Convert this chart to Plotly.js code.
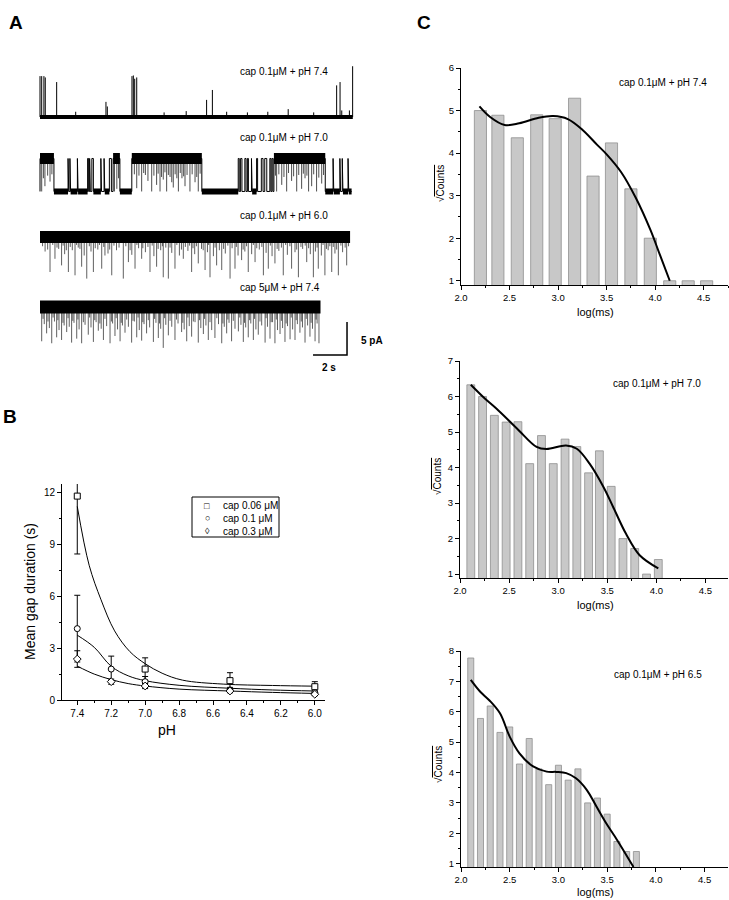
<!DOCTYPE html>
<html>
<head>
<meta charset="utf-8">
<script src="https://cdn.plot.ly/plotly-3.0.1.min.js"></script>
<style>body{margin:0;background:#fff}#fig{width:729px;height:900px}</style>
</head>
<body>
<div id="fig"></div>
<script>
// ---------- panel A : single channel records (time in s, current in pA) ----------
const rec1End = 18.4;
const rec1SpikeT = [0.0, 0.1, 0.23, 0.31, 0.98, 2.1, 3.88, 3.96, 5.41, 5.49, 5.57, 5.69, 7.3, 8.6, 9.8, 10.14, 10.98, 12.2, 13.4, 14.6, 16.1, 17.45, 17.65, 17.75, 18.2, 18.39];
const rec1SpikeA = [6.2, 6.2, 6.2, 6.0, 5.3, 0.8, 2.3, 1.6, 6.2, 6.3, 5.8, 6.0, 0.7, 0.9, 2.6, 4.1, 0.8, 0.7, 0.8, 1.2, 0.7, 4.8, 5.3, 1.0, 1.0, 7.7];

const rec2End = 18.33;
const rec2Amp = 5.0;
const rec2OpenStart = [0.0, 1.65, 1.76, 2.20, 2.80, 2.92, 3.05, 3.58, 3.77, 4.08, 4.30, 5.40, 11.66, 11.80, 12.05, 12.20, 12.44, 12.74, 13.02, 13.22, 13.52, 13.64, 13.76, 17.24, 17.64, 17.78, 18.12];
const rec2OpenEnd = [0.82, 1.69, 1.80, 2.24, 2.86, 2.96, 3.14, 3.62, 3.81, 4.20, 4.70, 9.52, 11.72, 11.88, 12.12, 12.26, 12.48, 12.80, 13.12, 13.34, 13.58, 13.70, 16.78, 17.28, 17.68, 17.82, 18.16];
const rec2FlickT = [0.1, 0.2, 0.29, 0.45, 0.59, 0.7, 4.38, 4.52, 4.62, 5.55, 5.69, 5.82, 5.98, 6.1, 6.2, 6.35, 6.57, 6.7, 6.86, 6.95, 7.06, 7.15, 7.25, 7.35, 7.45, 7.55, 7.65, 7.75, 7.84, 7.95, 8.05, 8.14, 8.25, 8.35, 8.45, 8.53, 8.65, 8.82, 8.95, 9.12, 9.22, 9.31, 9.42,
  13.85, 13.92, 14.05, 14.22, 14.35, 14.51, 14.62, 14.8, 14.92, 15.1, 15.22, 15.39, 15.49, 15.59, 15.7, 15.8, 15.98, 16.1, 16.27, 16.4, 16.57, 16.68];
const rec2FlickD = [5.0, 3.0, 4.2, 2.6, 3.5, 2.4, 5.0, 4.6, 3.0, 2.4, 4.5, 2.6, 5.0, 2.2, 2.5, 3.4, 5.0, 2.6, 4.0, 2.3, 5.0, 2.8, 3.2, 2.1, 5.0, 2.5, 2.8, 3.6, 4.4, 2.4, 3.0, 5.0, 2.2, 3.0, 2.7, 4.2, 2.5, 5.0, 2.4, 3.6, 2.8, 5.0, 2.3,
  2.6, 5.0, 2.4, 4.0, 2.8, 5.0, 2.2, 3.4, 2.7, 5.0, 2.5, 4.6, 2.3, 3.0, 2.6, 5.0, 4.2, 2.4, 5.0, 2.9, 3.8, 2.5];

const rec3End = 18.24;
const rec3SpikeT = [0.59, 0.88, 1.27, 1.67, 2.06, 2.45, 2.75, 3.14, 3.63, 3.82, 4.22, 4.90, 5.2, 5.59, 5.98, 6.47, 6.86, 7.25, 7.55, 7.94, 8.43, 8.92, 9.31, 9.71, 10.0, 10.39, 10.69, 11.18, 11.47, 11.86, 12.25, 12.65, 13.14, 13.43, 13.82, 14.31, 14.8, 15.2, 15.69, 16.08, 16.37, 16.76, 17.16, 17.55, 18.04,
  0.3, 1.1, 1.45, 1.9, 2.25, 2.6, 3.0, 3.4, 4.0, 4.5, 5.4, 5.8, 6.2, 6.7, 7.1, 7.4, 7.75, 8.2, 8.7, 9.1, 9.5, 9.85, 10.2, 10.55, 10.9, 11.3, 11.65, 12.05, 12.45, 12.9, 13.3, 13.65, 14.05, 14.55, 15.0, 15.45, 15.9, 16.2, 16.55, 16.95, 17.35, 17.8,
  0.15, 0.45, 0.75, 1.0, 1.36, 1.55, 1.78, 2.15, 2.35, 2.9, 3.25, 3.5, 3.75, 4.1, 4.35, 4.65, 5.05, 5.3, 5.7, 6.05, 6.35, 6.6, 6.95, 7.2, 7.65, 8.05, 8.32, 8.55, 8.8, 9.0, 9.2, 9.6, 9.92, 10.3, 10.8, 11.05, 11.55, 11.95, 12.15, 12.55, 12.75, 13.05, 13.55, 13.95, 14.2, 14.45, 14.7, 15.1, 15.35, 15.6, 15.8, 16.3, 16.65, 16.85, 17.05, 17.25, 17.45, 17.7, 17.95, 18.15];
const rec3SpikeD = [5.3, 3.3, 4.3, 5.3, 5.8, 4.5, 6.3, 5.3, 4.8, 2.8, 5.8, 6.3, 3.8, 4.8, 3.3, 5.3, 4.5, 6.1, 6.3, 4.8, 3.3, 5.3, 4.0, 5.0, 6.1, 4.3, 5.0, 6.3, 4.8, 3.5, 5.3, 3.8, 5.8, 4.8, 4.0, 5.8, 4.8, 6.1, 3.8, 6.1, 4.8, 5.8, 5.3, 5.8, 4.3,
  2.2, 1.8, 2.6, 2.0, 1.6, 2.8, 2.2, 1.9, 2.5, 2.0, 2.7, 1.7, 2.3, 2.9, 2.0, 1.6, 2.4, 2.8, 2.1, 2.6, 1.8, 2.3, 2.9, 2.0, 2.5, 1.7, 2.8, 2.2, 2.6, 1.9, 2.4, 2.9, 2.1, 2.7, 2.3, 1.8, 2.6, 2.2, 2.8, 2.0, 2.5, 2.3,
  1.4, 1.9, 1.2, 1.6, 1.3, 2.0, 1.5, 1.2, 1.8, 1.4, 1.7, 1.2, 1.5, 1.9, 1.3, 1.6, 1.4, 2.0, 1.2, 1.7, 1.5, 1.3, 1.8, 1.4, 1.6, 1.2, 1.9, 1.5, 1.3, 1.7, 1.4, 2.0, 1.2, 1.6, 1.8, 1.3, 1.5, 1.9, 1.4, 1.2, 1.7, 1.5, 1.3, 1.8, 1.6, 1.2, 1.4, 1.9, 1.5, 1.3, 1.7, 1.6, 1.2, 1.8, 1.4, 1.5, 1.9, 1.3, 1.6, 1.4];

const rec4End = 16.5;
const rec4SpikeT = [0.10, 0.39, 0.69, 0.98, 1.27, 1.57, 1.86, 2.16, 2.45, 2.84, 3.14, 3.43, 3.73, 4.12, 4.41, 4.71, 5.0, 5.39, 5.69, 5.98, 6.27, 6.67, 6.96, 7.25, 7.55, 7.94, 8.33, 8.63, 8.92, 9.31, 9.61, 9.9, 10.29, 10.69, 10.98, 11.27, 11.67, 11.96, 12.25, 12.55, 12.84, 13.24, 13.53, 13.82, 14.12, 14.41, 14.71, 15.0, 15.29, 15.59, 15.88, 16.18, 16.41,
  0.25, 0.55, 0.85, 1.12, 1.42, 1.72, 2.0, 2.3, 2.65, 3.0, 3.3, 3.6, 3.92, 4.27, 4.56, 4.85, 5.2, 5.55, 5.84, 6.12, 6.45, 6.82, 7.1, 7.4, 7.75, 8.12, 8.48, 8.78, 9.12, 9.46, 9.76, 10.1, 10.5, 10.84, 11.12, 11.47, 11.82, 12.1, 12.4, 12.7, 13.04, 13.38, 13.68, 13.97, 14.27, 14.56, 14.86, 15.14, 15.44, 15.74, 16.03, 16.3,
  0.18, 0.47, 0.77, 1.05, 1.35, 1.65, 1.93, 2.23, 2.55, 2.92, 3.22, 3.52, 3.82, 4.2, 4.48, 4.78, 5.1, 5.47, 5.77, 6.05, 6.37, 6.74, 7.03, 7.33, 7.65, 8.03, 8.4, 8.7, 9.02, 9.38, 9.68, 10.0, 10.4, 10.76, 11.05, 11.37, 11.75, 12.03, 12.33, 12.62, 12.94, 13.3, 13.6, 13.9, 14.2, 14.48, 14.78, 15.07, 15.37, 15.66, 15.95, 16.24];
const rec4SpikeD = [5.2, 4.0, 5.5, 4.6, 5.0, 3.8, 5.4, 4.8, 5.5, 4.2, 5.3, 3.6, 5.0, 5.5, 4.4, 5.2, 3.9, 5.4, 4.6, 5.1, 4.0, 5.3, 4.7, 6.2, 4.3, 5.0, 3.8, 5.2, 4.5, 5.4, 4.1, 5.0, 4.7, 5.5, 4.0, 5.2, 3.7, 5.3, 4.6, 5.0, 4.2, 5.4, 4.8, 5.5, 4.1, 5.3, 4.9, 5.0, 3.9, 5.4, 4.5, 5.2, 5.5,
  2.6, 3.2, 2.2, 3.5, 2.8, 3.0, 2.4, 3.4, 2.7, 3.1, 2.3, 3.3, 2.9, 2.5, 3.4, 2.8, 3.0, 2.2, 3.5, 2.6, 3.1, 2.4, 3.3, 2.7, 3.0, 2.5, 3.4, 2.9, 2.3, 3.2, 2.8, 3.5, 2.6, 3.0, 2.4, 3.3, 2.7, 3.1, 2.5, 3.4, 2.8, 3.0, 2.3, 3.5, 3.2, 2.9, 3.4, 2.6, 3.1, 2.8, 3.3, 2.5,
  1.8, 2.2, 1.6, 2.0, 2.4, 1.7, 2.1, 1.9, 2.3, 1.6, 2.0, 2.5, 1.8, 2.2, 1.7, 2.4, 1.9, 2.1, 1.6, 2.3, 2.0, 1.8, 2.5, 1.7, 2.1, 1.9, 2.4, 1.6, 2.2, 2.0, 1.8, 2.3, 1.7, 2.5, 1.9, 2.1, 1.6, 2.4, 2.0, 1.8, 2.2, 1.7, 2.3, 1.9, 2.1, 2.5, 1.6, 2.0, 2.2, 1.8, 2.4, 1.9];

const recLabels = ['cap 0.1μM + pH 7.4', 'cap 0.1μM + pH 7.0', 'cap 0.1μM + pH 6.0', 'cap 5μM + pH 7.4'];
const scaleSec = 2;
const scalePA = 5;

// ---------- panel B : mean gap duration vs pH ----------
const pHAll = [7.4, 7.2, 7.0, 6.5, 6.0];
const pH006 = [7.4, 7.0, 6.5, 6.0];
const gap006 = [11.8, 1.79, 1.12, 0.77];
const err006 = [3.35, 0.65, 0.46, 0.29];
const gap01 = [4.13, 1.79, 1.06, 0.58, 0.42];
const err01 = [1.93, 0.75, 0.3, 0.15, 0.12];
const gap03 = [2.37, 1.06, 0.81, 0.52, 0.33];
const err03 = [0.48, 0.15, 0.15, 0.1, 0.08];
const fitPH006 = [7.4, 7.33, 7.26, 7.18, 7.09, 7.0, 6.9, 6.78, 6.54, 6.25, 6.0];
const fit006 = [11.2, 7.8, 5.8, 4.0, 2.8, 2.1, 1.55, 1.15, 0.92, 0.84, 0.8];
const fitPH = [7.4, 7.3, 7.2, 7.1, 7.0, 6.8, 6.5, 6.25, 6.0];
const fit01 = [3.75, 3.05, 1.95, 1.4, 1.12, 0.85, 0.68, 0.58, 0.52];
const fit03 = [1.96, 1.5, 1.18, 0.95, 0.81, 0.63, 0.52, 0.44, 0.38];
const seriesNames = ['cap 0.06 μM', 'cap 0.1 μM', 'cap 0.3 μM'];
const seriesGlyphs = ['\u25A1', '\u25CB', '\u25CA'];

// ---------- panel C : dwell histograms ----------
const h1X = [2.20, 2.38, 2.58, 2.78, 2.97, 3.17, 3.36, 3.55, 3.75, 3.95, 4.15, 4.34, 4.53];
const h1Y = [5.0, 4.89, 4.36, 4.9, 4.81, 5.29, 3.46, 4.24, 3.16, 2.0, 1.0, 1.0, 1.0];
const f1X = [2.19, 2.3, 2.45, 2.6, 2.8, 2.95, 3.1, 3.25, 3.4, 3.5, 3.65, 3.8, 3.95, 4.05, 4.15];
const f1Y = [5.1, 4.85, 4.66, 4.7, 4.83, 4.87, 4.8, 4.55, 4.2, 3.97, 3.55, 2.95, 2.2, 1.6, 1.0];

const h2X = [2.11, 2.23, 2.35, 2.47, 2.59, 2.71, 2.83, 2.95, 3.07, 3.19, 3.31, 3.42, 3.54, 3.66, 3.78, 3.90, 4.02];
const h2Y = [6.33, 6.0, 5.47, 5.28, 5.29, 4.11, 4.9, 4.11, 4.8, 4.59, 3.85, 4.47, 3.47, 2.0, 1.72, 1.0, 1.41];
const f2X = [2.11, 2.25, 2.37, 2.58, 2.78, 2.88, 3.08, 3.19, 3.32, 3.46, 3.56, 3.69, 3.83, 4.02];
const f2Y = [6.33, 5.95, 5.66, 5.1, 4.58, 4.52, 4.62, 4.53, 4.11, 3.46, 2.89, 2.14, 1.53, 1.16];

const h3X = [2.1, 2.2, 2.3, 2.4, 2.5, 2.6, 2.7, 2.8, 2.9, 3.0, 3.1, 3.2, 3.3, 3.4, 3.5, 3.6, 3.7, 3.8];
const h3Y = [7.77, 5.78, 6.19, 5.32, 5.5, 4.28, 5.12, 4.12, 3.6, 4.24, 3.75, 4.12, 3.0, 3.16, 2.63, 1.73, 1.4, 1.4];
const f3X = [2.1, 2.2, 2.29, 2.4, 2.5, 2.6, 2.74, 2.88, 2.98, 3.08, 3.18, 3.29, 3.39, 3.49, 3.6, 3.77];
const f3Y = [7.05, 6.65, 6.38, 5.95, 5.18, 4.63, 4.2, 4.03, 4.02, 3.98, 3.81, 3.43, 2.88, 2.33, 1.79, 0.89];
const histLabels = ['cap 0.1μM + pH 7.4', 'cap 0.1μM + pH 7.0', 'cap 0.1μM + pH 6.5'];

// ---------- helpers ----------
const W = 729, H = 900;
const FONT = 'Liberation Sans, Arial, sans-serif';
const px = v => v / W;
const py = v => 1 - v / H;

function vSpikes(ts, hs, base, dir) {
  const xs = [], ys = [];
  ts.forEach((t, i) => { xs.push(t, t, null); ys.push(base, base + dir * hs[i], null); });
  return { xs, ys };
}

function line(xs, ys, w, color, axes) {
  return { type: 'scatter', mode: 'lines', x: xs, y: ys, xaxis: axes[0], yaxis: axes[1],
    line: { color: color || '#000', width: w }, hoverinfo: 'skip', showlegend: false, connectgaps: false };
}

const traces = [];
const A = ['x', 'y'];
const spikeCol = 'rgba(0,0,0,0.7)';

// record 1
const base1 = 41.36;
traces.push(line([0, rec1End], [base1, base1], 4, '#000', A));
let s = vSpikes(rec1SpikeT, rec1SpikeA, base1, 1);
traces.push(line(s.xs, s.ys, 1, '#000', A));

// record 2 : step path + noise bands + flickers
const base2 = 30.08;
{
  const xs = [], ys = [], cx = [], cy = [], ox = [], oy = [];
  let prev = 0;
  rec2OpenStart.forEach((st, i) => {
    const en = rec2OpenEnd[i];
    xs.push(st, st, en, en); ys.push(base2, base2 + rec2Amp, base2 + rec2Amp, base2);
    if (st - prev > 0.25) { cx.push(prev, st, null); cy.push(base2, base2, null); }
    if (en - st > 0.25) { ox.push(st, en, null); oy.push(base2 + rec2Amp, base2 + rec2Amp, null); }
    prev = en;
  });
  xs.push(rec2End); ys.push(base2);
  if (rec2End - prev > 0.05) { cx.push(prev, rec2End, null); cy.push(base2, base2, null); }
  traces.push(line(cx, cy, 6, '#000', A));
  traces.push(line(ox, oy, 11, '#000', A));
  traces.push(line(xs, ys, 1, '#000', A));
  const f = vSpikes(rec2FlickT, rec2FlickD, base2 + rec2Amp, -1);
  traces.push(line(f.xs, f.ys, 1, spikeCol, A));
}

// record 3
const base3 = 23.18;
traces.push(line([0, rec3End], [base3, base3], 12, '#000', A));
s = vSpikes(rec3SpikeT, rec3SpikeD, base3, -1);
traces.push(line(s.xs, s.ys, 0.9, spikeCol, A));

// record 4
const base4 = 12.58;
traces.push(line([0, rec4End], [base4, base4], 13, '#000', A));
s = vSpikes(rec4SpikeT, rec4SpikeD, base4, -1);
traces.push(line(s.xs, s.ys, 0.9, spikeCol, A));

// scale bar
const sbX = 18.06, sbY = 5.3;
traces.push(line([sbX - scaleSec, sbX, sbX], [sbY, sbY, sbY + scalePA], 1.5, '#000', A));

// ---------- panel B traces ----------
const B = ['x2', 'y2'];
[[fitPH006, fit006], [fitPH, fit01], [fitPH, fit03]].forEach(f => {
  const t = line(f[0], f[1], 1, '#000', B);
  t.line.shape = 'spline';
  traces.push(t);
});

function pts(xs, ys, es, sym) {
  return { type: 'scatter', mode: 'markers', x: xs, y: ys, xaxis: 'x2', yaxis: 'y2', showlegend: false,
    marker: { symbol: sym, size: 6, color: '#fff', line: { color: '#000', width: 1 } },
    error_y: { type: 'data', array: es, visible: true, color: '#000', thickness: 1, width: 3 },
    hoverinfo: 'skip', cliponaxis: true };
}
traces.push(pts(pH006, gap006, err006, 'square'));
traces.push(pts(pHAll, gap01, err01, 'circle'));
traces.push(pts(pHAll, gap03, err03, 'diamond'));

// ---------- panel C traces ----------
function bars(xs, ys, w, xa, ya) {
  return { type: 'bar', x: xs, y: ys, width: w, xaxis: xa, yaxis: ya, showlegend: false, hoverinfo: 'skip',
    marker: { color: '#c8c8c8', line: { color: '#8f8f8f', width: 0.8 } } };
}
function fit(xs, ys, xa, ya) {
  const t = line(xs, ys, 2, '#000', [xa, ya]);
  t.line.shape = 'spline';
  return t;
}
traces.push(bars(h1X, h1Y, 0.125, 'x3', 'y3'), fit(f1X, f1Y, 'x3', 'y3'));
traces.push(bars(h2X, h2Y, 0.08, 'x4', 'y4'), fit(f2X, f2Y, 'x4', 'y4'));
traces.push(bars(h3X, h3Y, 0.062, 'x5', 'y5'), fit(f3X, f3Y, 'x5', 'y5'));

// ---------- axes ----------
const tickFont = { family: FONT, size: 9.5, color: '#000' };
function axis(extra) {
  return Object.assign({ showgrid: false, zeroline: false, showline: true, linecolor: '#000', linewidth: 1,
    ticks: 'outside', ticklen: 4, tickwidth: 1, tickcolor: '#000', tickfont: tickFont, fixedrange: true }, extra);
}
function cAxes(n, xd, yd, yr, yTop) {
  const o = {};
  o['xaxis' + n] = axis({ domain: [px(xd[0]), px(xd[1])], range: [2.0, xd[2]], anchor: 'y' + n,
    dtick: 0.5, tick0: 2, tickformat: '.1f', minor: { ticks: 'outside', ticklen: 2, dtick: 0.25, tickcolor: '#000' } });
  o['yaxis' + n] = axis({ domain: [py(yd[1]), py(yd[0])], range: [yr, yTop], anchor: 'x' + n,
    dtick: 1, tick0: 0, minor: { ticks: 'outside', ticklen: 2, dtick: 0.5, tickcolor: '#000' } });
  return o;
}

function note(text, x, y, o) {
  return Object.assign({ xref: 'paper', yref: 'paper', x: px(x), y: py(y), text: text, showarrow: false,
    xanchor: 'left', yanchor: 'middle', font: { family: FONT, size: 10, color: '#000' } }, o || {});
}

const annotations = [
  note('<b>A</b>', 7, 22, { font: { family: FONT, size: 19, color: '#000' } }),
  note('<b>B</b>', 1, 416, { font: { family: FONT, size: 19, color: '#000' } }),
  note('<b>C</b>', 415, 22, { font: { family: FONT, size: 19, color: '#000' } }),
  note(recLabels[0], 238, 71),
  note(recLabels[1], 238, 137),
  note(recLabels[2], 238, 215),
  note(recLabels[3], 238, 287),
  note('<b>5 pA</b>', 359, 340),
  note('<b>2 s</b>', 329, 367, { xanchor: 'center' }),
  note('Mean gap duration (s)', 30, 592, { xanchor: 'center', textangle: -90, font: { family: FONT, size: 14, color: '#000' } }),
  note('pH', 167, 730, { xanchor: 'center', font: { family: FONT, size: 14, color: '#000' } }),
  note(histLabels[0], 617, 83),
  note(histLabels[1], 611, 383),
  note(histLabels[2], 612, 674),
  note('log(ms)', 595, 312, { xanchor: 'center', font: { family: FONT, size: 11, color: '#000' } }),
  note('log(ms)', 595, 605, { xanchor: 'center', font: { family: FONT, size: 11, color: '#000' } }),
  note('log(ms)', 595, 892, { xanchor: 'center', font: { family: FONT, size: 11, color: '#000' } })
];
[[440, 183], [437, 477], [438, 765]].forEach(p => {
  annotations.push(note('√<span style="text-decoration:overline">Counts</span>', p[0], p[1],
    { xanchor: 'center', textangle: -90, font: { family: FONT, size: 10, color: '#000' } }));
});
// legend of panel B (boxed, Origin style)
[505.7, 518.3, 531].forEach((yy, i) => {
  annotations.push(note(seriesGlyphs[i], 207, yy, { xanchor: 'center', font: { family: 'Liberation Sans', size: 9, color: '#000' } }));
  annotations.push(note(seriesNames[i], 221, yy, { font: { family: FONT, size: 10, color: '#000' } }));
});

const layout = Object.assign({
  width: W, height: H, margin: { l: 0, r: 0, t: 0, b: 0 },
  paper_bgcolor: '#fff', plot_bgcolor: 'rgba(0,0,0,0)',
  font: { family: FONT, color: '#000' },
  showlegend: false,
  xaxis: { domain: [px(35), px(375)], range: [-0.294, 19.706], visible: false, fixedrange: true },
  yaxis: { domain: [py(390), py(55)], range: [0, 50.76], visible: false, fixedrange: true },
  xaxis2: axis({ domain: [px(62), px(325)], range: [7.49, 5.94], anchor: 'y2', dtick: 0.2, tick0: 6, tickformat: '.1f',
    tickfont: { family: FONT, size: 10, color: '#000' },
    minor: { ticks: 'outside', ticklen: 2, dtick: 0.1, tickcolor: '#000' } }),
  yaxis2: axis({ domain: [py(700), py(484)], range: [0, 12.5], anchor: 'x2', dtick: 3, tick0: 0,
    tickfont: { family: FONT, size: 10, color: '#000' },
    minor: { ticks: 'outside', ticklen: 2, dtick: 1.5, tickcolor: '#000' } }),
  shapes: [{ type: 'rect', xref: 'paper', yref: 'paper', x0: px(192), x1: px(279), y0: py(537), y1: py(497),
    line: { color: '#000', width: 1 }, fillcolor: 'rgba(0,0,0,0)' }],
  annotations: annotations
},
  cAxes(3, [461, 728, 4.75], [68, 285], 0.9, 6),
  cAxes(4, [460, 728, 4.73], [361, 578], 0.89, 7),
  cAxes(5, [461, 728, 4.74], [651, 867], 0.89, 8)
);

Plotly.newPlot('fig', traces, layout, { staticPlot: true, displayModeBar: false });
</script>
</body>
</html>
